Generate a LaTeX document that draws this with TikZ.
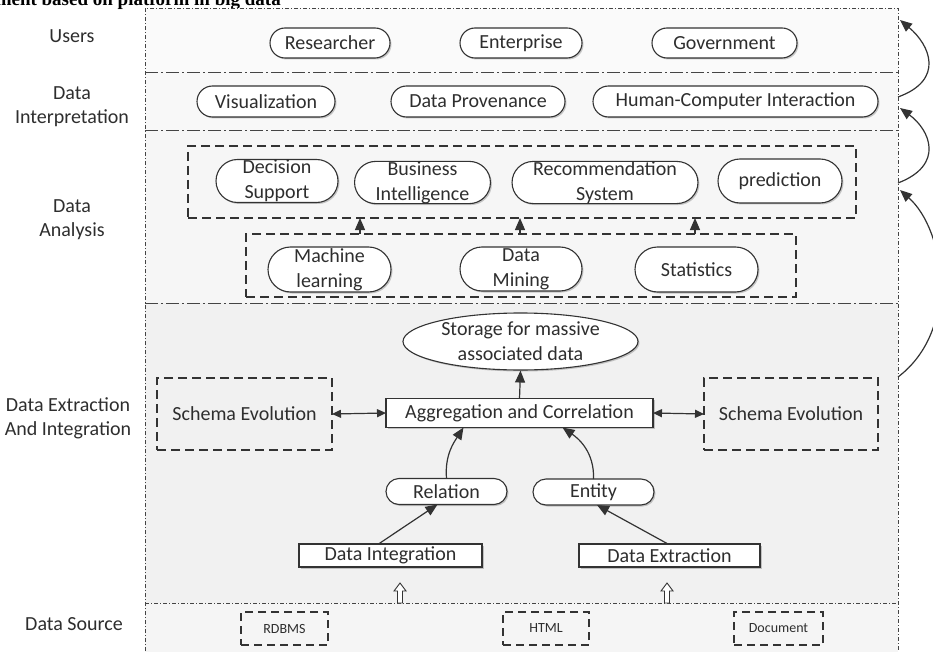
\documentclass[tikz,border=0pt]{standalone}
\usepackage{fontspec}
\setmainfont{Carlito}
\newfontfamily\headserif{Liberation Serif}
\usetikzlibrary{shapes.misc,shapes.geometric,arrows.meta,shadows,calc}

\definecolor{ink}{HTML}{2E2E2E}
\definecolor{edge}{HTML}{333333}
\definecolor{framec}{HTML}{444444}
\definecolor{fillUsers}{HTML}{FAFAFA}
\definecolor{fillInterp}{HTML}{F8F8F8}
\definecolor{fillAnal}{HTML}{F6F6F6}
\definecolor{fillExtr}{HTML}{F1F1F1}
\definecolor{fillSrc}{HTML}{F5F5F5}

\tikzset{
  bandfill/.style={rectangle, inner sep=0pt, outer sep=0pt, draw=none},
  framefine/.style={draw=framec, line width=0.9pt, dash pattern=on 4pt off 2pt on 1pt off 2pt},
  framelong/.style={draw=framec, line width=0.9pt, dash pattern=on 13pt off 3pt on 2pt off 3pt},
  sidelabel/.style={align=center, text=ink, font=\fontsize{20}{24}\selectfont},
  softshadow/.style={drop shadow={shadow xshift=1.5pt, shadow yshift=-1.5pt, opacity=0.2, fill=black}},
  pill/.style={rounded rectangle, draw=edge, line width=1.1pt, fill=white, inner sep=0pt, outer sep=0pt,
    align=center, text=ink, font=\fontsize{20}{25}\selectfont, softshadow},
  solidbox/.style={rectangle, draw=edge, line width=1.1pt, fill=white, inner sep=0pt, outer sep=0pt,
    text=ink, font=\fontsize{20}{25}\selectfont, softshadow},
  dashbox/.style={rectangle, draw=edge, line width=1.2pt, dash pattern=on 9pt off 5pt,
    inner sep=0pt, outer sep=0pt, text=ink, font=\fontsize{20}{25}\selectfont},
  srcbox/.style={dashbox, line width=1.1pt, dash pattern=on 8pt off 5pt, font=\fontsize{14}{16}\selectfont},
  arr/.style={draw=edge, line width=1.2pt, -{Triangle[length=12pt,width=10pt]}},
  darr/.style={draw=edge, line width=1.2pt, {Triangle[length=9pt,width=8pt]}-{Triangle[length=9pt,width=8pt]}},
  hollow/.style={draw=edge, line width=0.9pt, fill=white, line join=miter}
}

\begin{document}
\begin{tikzpicture}[x=1pt, y=-1pt]
\useasboundingbox (0,0) rectangle (933,652);
\clip (0,0) rectangle (933,652);
\fill[white] (0,0) rectangle (933,652);

% heading, cut by the top edge
\node[anchor=base east, inner sep=0pt, font=\headserif\bfseries\fontsize{19}{19}\selectfont, text=black]
  (heading) at (281,6) {ment based on platform in big data};

% layer bands
\node[bandfill, fill=fillUsers,  minimum width=753pt, minimum height=64pt]  (bUsers)  at (521.5,40) {};
\node[bandfill, fill=fillInterp, minimum width=753pt, minimum height=58pt]  (bInterp) at (521.5,101) {};
\node[bandfill, fill=fillAnal,   minimum width=753pt, minimum height=173pt] (bAnal)   at (521.5,216.5) {};
\node[bandfill, fill=fillExtr,   minimum width=753pt, minimum height=300pt] (bExtr)   at (521.5,453) {};
\node[bandfill, fill=fillSrc,    minimum width=753pt, minimum height=57pt]  (bSrc)    at (521.5,631.5) {};

\draw[framefine] (bSrc.south west) -- (bUsers.north west) -- (bUsers.north east) -- (bSrc.south east);
\draw[framelong] (bUsers.south west) -- (bUsers.south east);
\draw[framelong] (bInterp.south west) -- (bInterp.south east);
\draw[framelong] (bAnal.south west) -- (bAnal.south east);
\draw[framefine] (bExtr.south west) -- (bExtr.south east);

% layer names
\node[sidelabel] (lUsers)  at (72,36)  {Users};
\node[sidelabel] (lInterp) at (72,107) {Data\\Interpretation};
\node[sidelabel] (lAnal)   at (72,220) {Data\\Analysis};
\node[sidelabel] (lExtr)   at (68,418) {Data Extraction\\And Integration};
\node[sidelabel] (lSrc)    at (74,624) {Data Source};

% users
\node[pill, minimum width=120pt, minimum height=30pt] (res) at (330,43)   {Researcher};
\node[pill, minimum width=122pt, minimum height=30pt] (ent) at (521,43)   {Enterprise};
\node[pill, minimum width=145pt, minimum height=30pt] (gov) at (724.5,43) {Government};

% interpretation
\node[pill, minimum width=138pt, minimum height=31pt] (vis) at (266,101.5)   {Visualization};
\node[pill, minimum width=174pt, minimum height=31pt] (prov) at (478,101.5)  {Data Provenance};
\node[pill, minimum width=285pt, minimum height=31pt] (hci) at (735.5,101.5) {Human-Computer Interaction};

% analysis
\node[dashbox, minimum width=668pt, minimum height=72pt] (dsbox) at (522,182) {};
\node[dashbox, minimum width=550pt, minimum height=63pt] (mlbox) at (521,265.5) {};

\node[pill, minimum width=122pt, minimum height=43pt] (dec)  at (277,181)   {Decision\\Support};
\node[pill, minimum width=121pt, minimum height=41pt] (bi)   at (422.5,182.5) {Business\\Intelligence};
\node[pill, minimum width=184pt, minimum height=41pt] (rec)  at (605,182.5) {Recommendation\\System};
\node[pill, minimum width=124pt, minimum height=44pt] (pred) at (780,181)   {prediction};

\node[pill, minimum width=123pt, minimum height=45pt] (ml)   at (329.5,269.5) {Machine\\learning};
\node[pill, minimum width=122pt, minimum height=44pt] (dm)   at (521,269)     {Data\\Mining};
\node[pill, minimum width=123pt, minimum height=45pt] (stat) at (696.5,269.5) {Statistics};

\coordinate (k1) at (360,0);
\coordinate (k2) at (520,0);
\coordinate (k3) at (695,0);
\draw[arr] (k1 |- mlbox.north) -- (k1 |- dsbox.south);
\draw[arr] (k2 |- mlbox.north) -- (k2 |- dsbox.south);
\draw[arr] (k3 |- mlbox.north) -- (k3 |- dsbox.south);

% extraction and integration
\node[ellipse, draw=edge, line width=1.1pt, fill=white, inner sep=0pt, minimum width=235pt, minimum height=57pt,
  align=center, text=ink, font=\fontsize{20}{25}\selectfont, softshadow] (stor) at (520.5,341.5)
  {Storage for massive\\associated data};
\node[solidbox, minimum width=267pt, minimum height=29pt] (agg) at (519.5,413) {Aggregation and Correlation};
\node[dashbox, fill=fillExtr, minimum width=175pt, minimum height=72pt] (schL) at (244.5,414) {Schema Evolution};
\node[dashbox, fill=fillExtr, minimum width=174pt, minimum height=72pt] (schR) at (791,414)   {Schema Evolution};
\node[pill, minimum width=121pt, minimum height=26pt] (rel) at (446.5,491.5) {Relation};
\node[pill, minimum width=121pt, minimum height=26pt] (enty) at (593.5,492)  {Entity};
\node[solidbox, minimum width=183pt, minimum height=23pt] (dint) at (390.5,555.5) {Data Integration};
\node[solidbox, minimum width=181pt, minimum height=23pt] (dext) at (669.5,555.5) {Data Extraction};

\draw[arr] (agg.north) -- (stor.south);
\draw[darr] (schL.east) -- (agg.west);
\draw[darr] (agg.east) -- (schR.west);
\draw[arr] (rel.north) .. controls +(-2,-24) and +(-9,14) .. ([xshift=-56pt]agg.south);
\draw[arr] (enty.north) .. controls +(1,-27) and +(16,11) .. ([xshift=43pt]agg.south);
\draw[arr] ([xshift=-12pt]dint.north) -- ([xshift=-9pt]rel.south);
\draw[arr] ([xshift=-1.5pt]dext.north) -- ([xshift=3.5pt]enty.south);

% hollow arrows from the sources
\draw[hollow] (400,583) -- ++(6,8) -- ++(-3.5,0) -- ++(0,12) -- ++(-5,0) -- ++(0,-12) -- ++(-3.5,0) -- cycle;
\draw[hollow] (667,583) -- ++(6,8) -- ++(-3.5,0) -- ++(0,12) -- ++(-5,0) -- ++(0,-12) -- ++(-3.5,0) -- cycle;

% data sources
\node[srcbox, minimum width=87pt, minimum height=33pt] (rdb)  at (284.5,628.5) {RDBMS};
\node[srcbox, minimum width=86pt, minimum height=33pt] (html) at (546,628.5)   {HTML};
\node[srcbox, minimum width=89pt, minimum height=33pt] (doc)  at (778.5,628.5) {Document};

% feedback between layers
\draw[arr] ($(bInterp.north east)+(0,25)$) .. controls +(47,-17) and +(30,25) .. ($(bUsers.north east)+(2,12)$);
\draw[arr] ($(bAnal.north east)+(0,53)$) .. controls +(47,-18) and +(30,22) .. ($(bInterp.north east)+(2,36)$);
\draw[arr] ($(bExtr.north east)+(0,74)$) .. controls +(62,-47) and +(45,40) .. ($(bAnal.north east)+(2,60)$);
\end{tikzpicture}
\end{document}
